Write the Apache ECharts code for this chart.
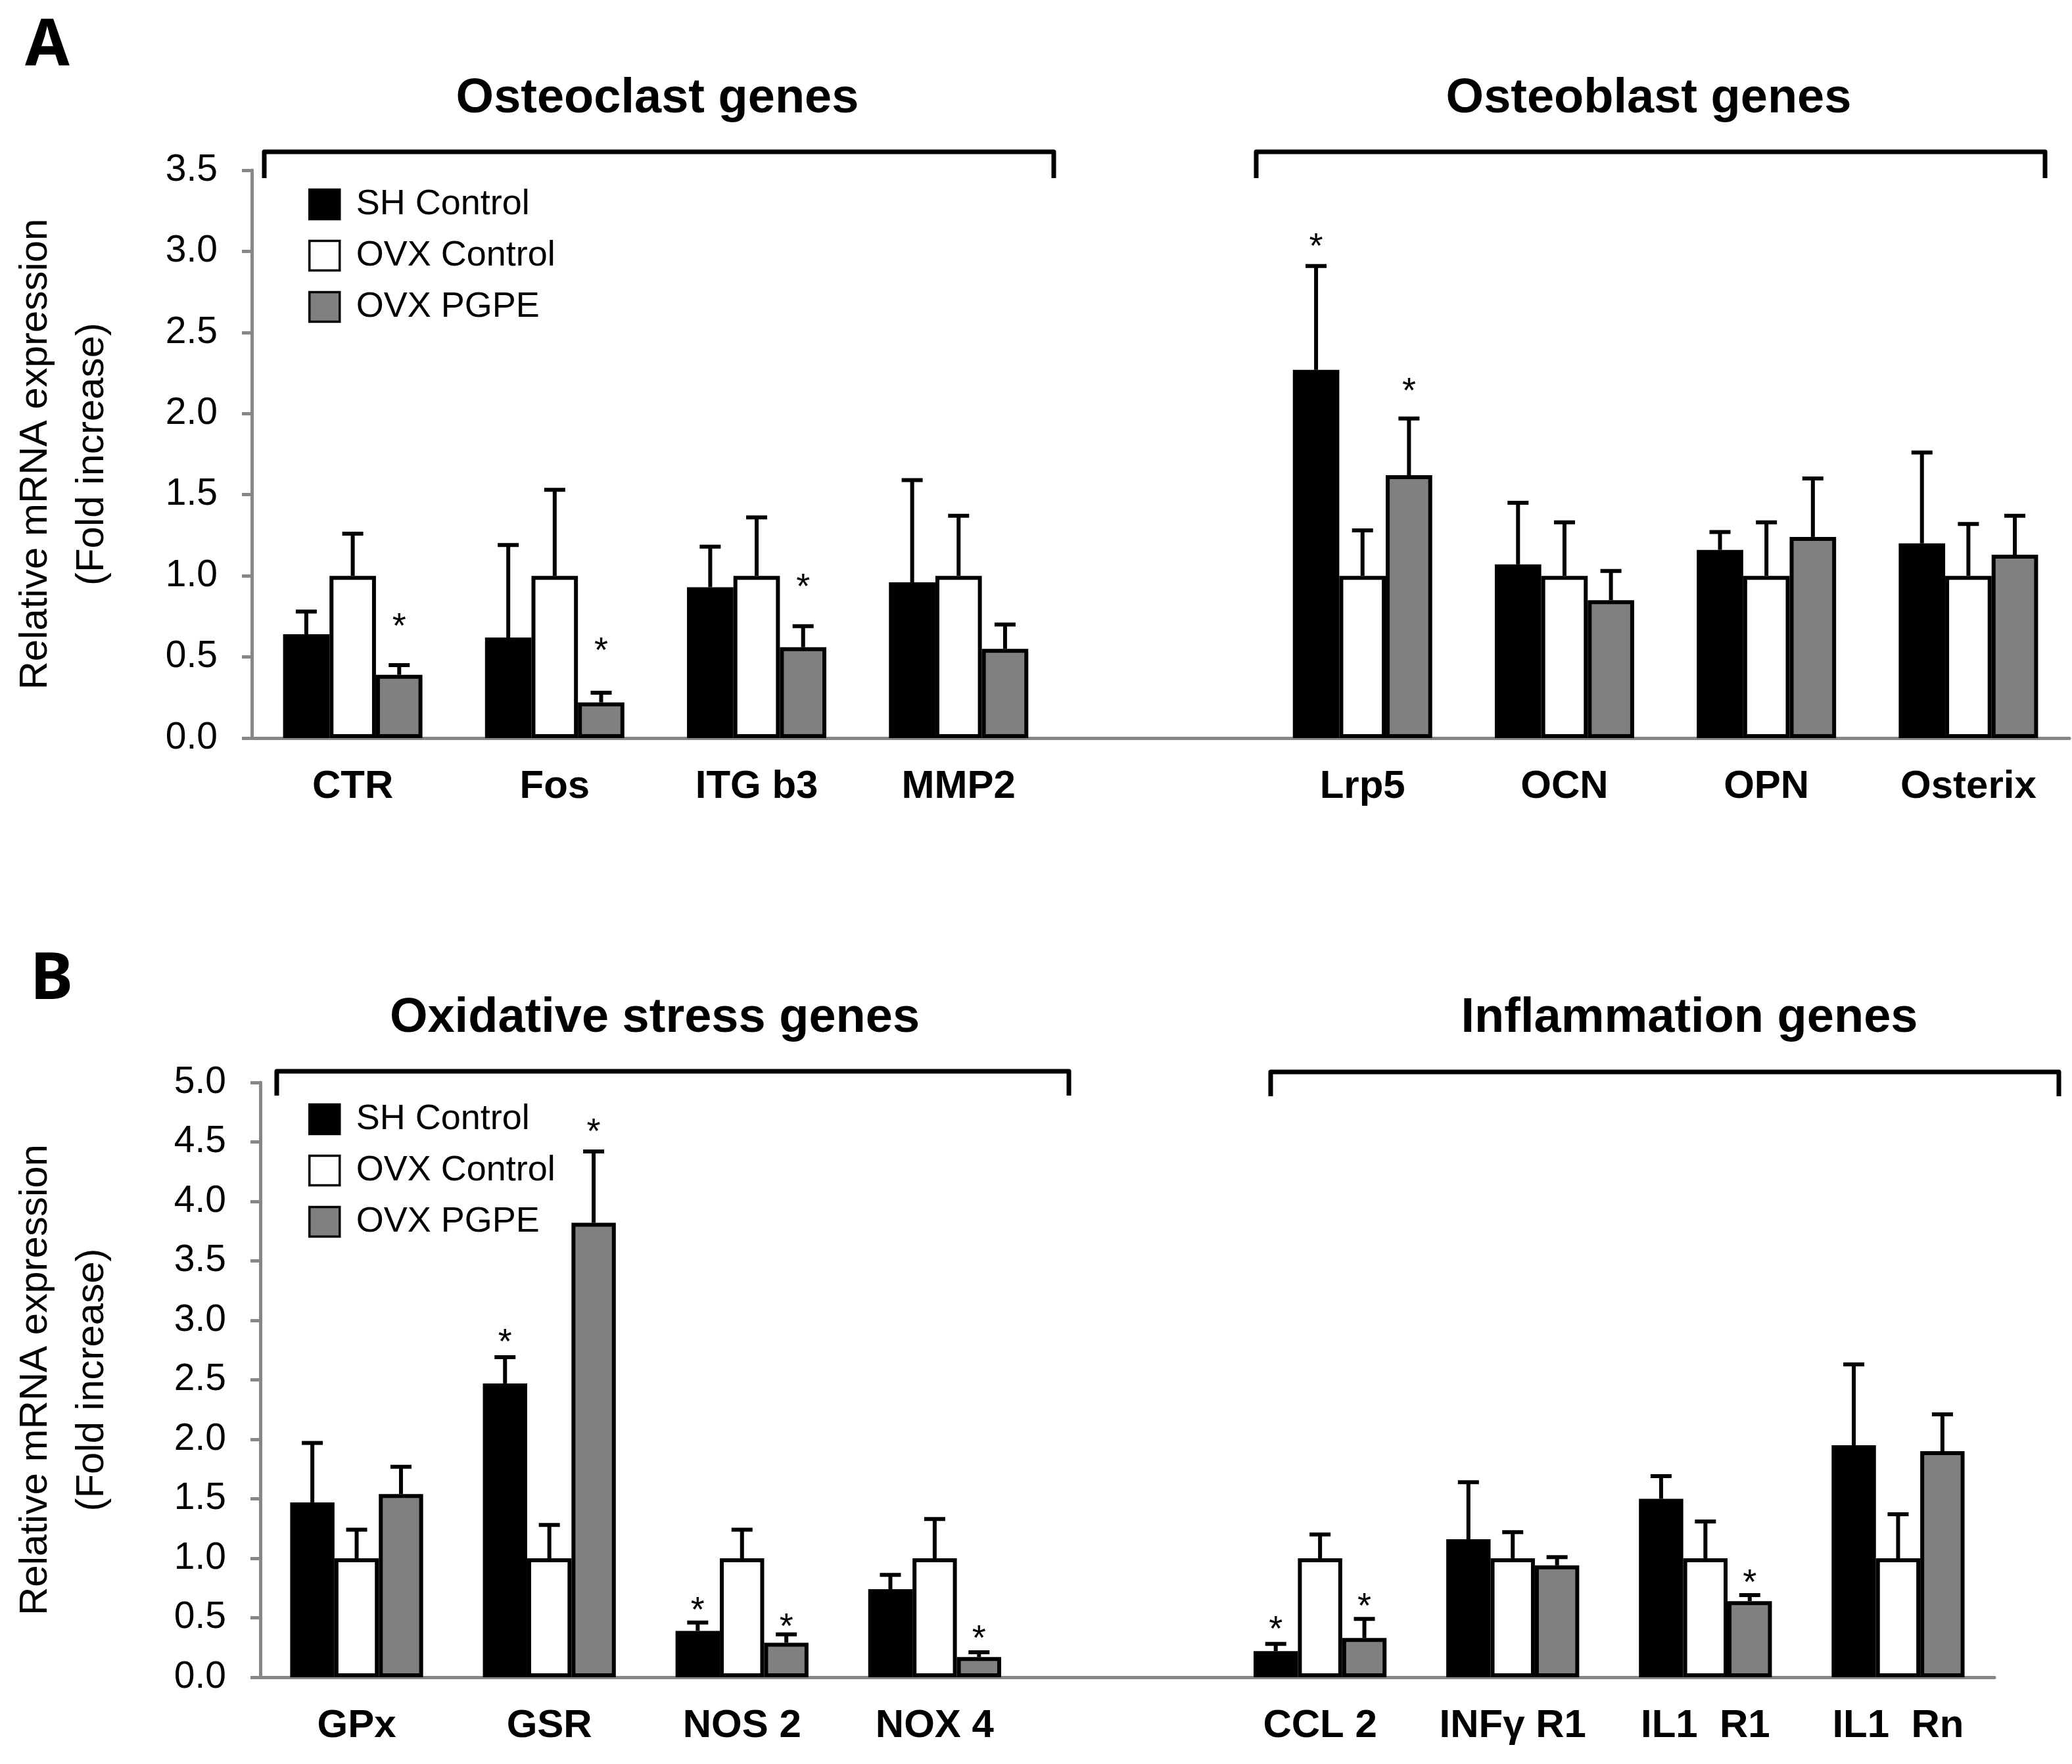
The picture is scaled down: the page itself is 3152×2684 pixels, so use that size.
<!DOCTYPE html>
<html>
<head>
<meta charset="utf-8">
<script src="https://cdn.jsdelivr.net/npm/echarts@6/dist/echarts.min.js"></script>
<style>
html, body { margin: 0; padding: 0; background: #fff; }
#chart { width: 3152px; height: 2684px; }
</style>
</head>
<body>
<div id="chart"></div>
<script>
const seriesNames = ['SH Control', 'OVX Control', 'OVX PGPE']

// panel A
const genesA = ['CTR', 'Fos', 'ITG b3', 'MMP2', '', 'Lrp5', 'OCN', 'OPN', 'Osterix']
const shA = [0.64, 0.62, 0.93, 0.96, null, 2.27, 1.07, 1.16, 1.20]
const shErrA = [0.78, 1.19, 1.18, 1.59, null, 2.91, 1.45, 1.27, 1.76]
const ovxA = [1, 1, 1, 1, null, 1, 1, 1, 1]
const ovxErrA = [1.26, 1.53, 1.36, 1.37, null, 1.28, 1.33, 1.33, 1.32]
const pgpeA = [0.39, 0.22, 0.56, 0.55, null, 1.62, 0.85, 1.24, 1.13]
const pgpeErrA = [0.45, 0.28, 0.69, 0.70, null, 1.97, 1.03, 1.60, 1.37]
// height where each asterisk sits, null = not significant
const shStarA = [null, null, null, null, null, 3.07, null, null, null]
const ovxStarA = [null, null, null, null, null, null, null, null, null]
const pgpeStarA = [0.73, 0.58, 0.97, null, null, 2.18, null, null, null]
const yMaxA = 3.5

// panel B
const genesB = ['GPx', 'GSR', 'NOS 2', 'NOX 4', '', 'CCL 2', 'INFγ R1', 'IL1  R1', 'IL1  Rn']
const shB = [1.47, 2.47, 0.39, 0.74, null, 0.22, 1.16, 1.50, 1.95]
const shErrB = [1.97, 2.69, 0.46, 0.86, null, 0.28, 1.64, 1.69, 2.63]
const ovxB = [1, 1, 1, 1, null, 1, 1, 1, 1]
const ovxErrB = [1.24, 1.28, 1.24, 1.33, null, 1.20, 1.22, 1.31, 1.37]
const pgpeB = [1.54, 3.82, 0.29, 0.17, null, 0.33, 0.94, 0.64, 1.90]
const pgpeErrB = [1.77, 4.42, 0.36, 0.21, null, 0.49, 1.01, 0.69, 2.21]
const shStarB = [null, 2.87, 0.62, null, null, 0.46, null, null, null]
const ovxStarB = [null, null, null, null, null, null, null, null, null]
const pgpeStarB = [null, 4.64, 0.48, 0.38, null, 0.65, null, 0.85, null]
const yMaxB = 5

const yStep = 0.5
const groupTitles = ['Osteoclast genes', 'Osteoblast genes', 'Oxidative stress genes', 'Inflammation genes']
const yName = 'Relative mRNA expression\n(Fold increase)'

const FONT = 'Liberation Sans'
const AXIS_GRAY = '#878787'
const CAT_GAP = 0.31
const fills = ['#000000', '#ffffff', '#808080']

function errorBars (slot) {
  return function (params, api) {
    const i = api.value(0)
    const band = api.size([1, 0])[0]
    const bw = band * (1 - CAT_GAP) / 3
    const cx = api.coord([i, 0])[0] + (slot - 1) * bw
    const yBar = api.coord([i, api.value(1)])[1]
    const yErr = api.coord([i, api.value(2)])[1]
    const ls = { stroke: '#000', lineWidth: 6 }
    const children = [
      { type: 'line', shape: { x1: cx, y1: yBar, x2: cx, y2: yErr }, style: ls },
      { type: 'line', shape: { x1: cx - 16, y1: yErr, x2: cx + 16, y2: yErr }, style: ls }
    ]
    if (api.value(3) > 0) {
      const ys = api.coord([i, api.value(3)])[1]
      children.push({
        type: 'text',
        style: { text: '*', x: cx, y: ys + 12, align: 'center', verticalAlign: 'middle', font: '54px "' + FONT + '"', fill: '#000' }
      })
    }
    return { type: 'group', children }
  }
}

function errData (vals, errs, stars) {
  const out = []
  vals.forEach((v, i) => {
    if (v != null) out.push([i, v, errs[i], stars[i] == null ? -1 : stars[i]])
  })
  return out
}

function panelSeries (idx, groups) {
  const list = []
  groups.forEach((g, k) => {
    list.push({
      name: seriesNames[k],
      type: 'bar',
      xAxisIndex: idx,
      yAxisIndex: idx,
      data: g[0],
      barGap: '0%',
      barCategoryGap: (CAT_GAP * 100) + '%',
      itemStyle: { color: fills[k], borderColor: '#000', borderWidth: 6 },
      emphasis: { disabled: true },
      z: 2
    })
  })
  groups.forEach((g, k) => {
    list.push({
      type: 'custom',
      xAxisIndex: idx,
      yAxisIndex: idx,
      renderItem: errorBars(k),
      data: errData(g[0], g[1], g[2]),
      z: 3
    })
  })
  return list
}

function valueAxis (idx, max, gap) {
  return {
    type: 'value',
    gridIndex: idx,
    min: 0,
    max: max,
    interval: yStep,
    name: yName,
    nameLocation: 'middle',
    nameRotate: 90,
    nameGap: gap,
    nameTextStyle: { fontFamily: FONT, fontSize: 60, color: '#000', lineHeight: 86 },
    axisLine: { show: true, lineStyle: { color: AXIS_GRAY, width: 5 } },
    axisTick: { show: true, length: 15, lineStyle: { color: AXIS_GRAY, width: 5 } },
    axisLabel: { fontFamily: FONT, fontSize: 57, color: '#000', margin: 52, formatter: v => v.toFixed(1) },
    splitLine: { show: false }
  }
}

function catAxis (idx, cats) {
  return {
    type: 'category',
    gridIndex: idx,
    data: cats,
    axisLine: { lineStyle: { color: AXIS_GRAY, width: 5 } },
    axisTick: { show: false },
    axisLabel: { fontFamily: FONT, fontSize: 60, fontWeight: 'bold', color: '#000', margin: 44, interval: 0 }
  }
}

function legendAt (top) {
  return {
    data: seriesNames,
    orient: 'vertical',
    left: 464,
    top: top,
    icon: 'rect',
    itemWidth: 46,
    itemHeight: 45,
    itemGap: 24,
    selectedMode: false,
    itemStyle: { borderWidth: 3.5, borderColor: '#000' },
    textStyle: { fontFamily: FONT, fontSize: 54, color: '#000', padding: [0, 0, 0, 20] }
  }
}

function bracket (x1, x2, top, bottom) {
  return {
    type: 'polyline',
    shape: { points: [[x1, bottom], [x1, top], [x2, top], [x2, bottom]] },
    style: { stroke: '#000', lineWidth: 7, fill: null, lineJoin: 'round' }
  }
}

function heading (text, x, y) {
  return {
    type: 'text',
    style: { text, x, y, align: 'center', verticalAlign: 'middle', font: 'bold 74px "' + FONT + '"', fill: '#000' }
  }
}

function panelLetter (text, x, y) {
  return {
    type: 'text',
    style: { text, x, y, align: 'left', verticalAlign: 'middle', font: 'bold 98px "Noto Sans"', fill: '#000' }
  }
}

const chart = echarts.init(document.getElementById('chart'), null, { renderer: 'canvas' })

const option = {
  backgroundColor: '#fff',
  animation: false,
  grid: [
    { left: 383, right: 4, top: 259, bottom: 2684 - 1123 },
    { left: 396, right: 118, top: 1647, bottom: 2684 - 2552 }
  ],
  xAxis: [catAxis(0, genesA), catAxis(1, genesB)],
  yAxis: [valueAxis(0, yMaxA, 200), valueAxis(1, yMaxB, 213)],
  legend: [legendAt(279), legendAt(1671)],
  series: [
    ...panelSeries(0, [[shA, shErrA, shStarA], [ovxA, ovxErrA, ovxStarA], [pgpeA, pgpeErrA, pgpeStarA]]),
    ...panelSeries(1, [[shB, shErrB, shStarB], [ovxB, ovxErrB, ovxStarB], [pgpeB, pgpeErrB, pgpeStarB]])
  ],
  graphic: [
    panelLetter('A', 38, 72),
    panelLetter('B', 46, 1492),
    heading(groupTitles[0], 1000, 151),
    heading(groupTitles[1], 2508, 151),
    heading(groupTitles[2], 996, 1550),
    heading(groupTitles[3], 2570, 1550),
    bracket(402, 1603, 231, 271),
    bracket(1911, 3111, 231, 271),
    bracket(421, 1626, 1630, 1667),
    bracket(1933, 3132, 1631, 1668)
  ]
}

chart.setOption(option)
</script>
</body>
</html>
